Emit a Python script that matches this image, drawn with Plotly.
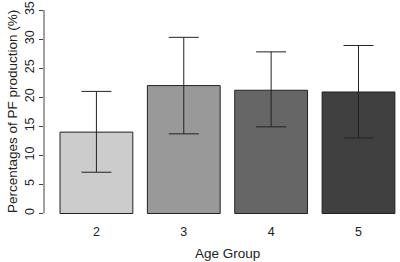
import plotly.graph_objects as go

age_groups = ["2", "3", "4", "5"]
mean_pct = [14.0, 22.0, 21.2, 20.9]
upper_pct = [21.0, 30.3, 27.8, 28.9]
lower_pct = [7.1, 13.7, 14.9, 13.0]
bar_colors = ["#cccccc", "#999999", "#666666", "#404040"]
y_ticks = [0, 5, 10, 15, 20, 25, 30, 35]

err_plus = [u - m for u, m in zip(upper_pct, mean_pct)]
err_minus = [m - l for m, l in zip(mean_pct, lower_pct)]

font_family = "Liberation Sans, Arial, sans-serif"

fig = go.Figure()
fig.add_trace(go.Bar(
    x=age_groups, y=mean_pct,
    marker=dict(color=bar_colors, line=dict(color="#222222", width=1)),
    error_y=dict(type="data", symmetric=False, array=err_plus, arrayminus=err_minus,
                 color="#222222", thickness=1, width=15),
    showlegend=False,
))

fig.add_shape(type="line", xref="paper", yref="y", x0=0, x1=0,
              y0=y_ticks[0], y1=y_ticks[-1], line=dict(color="#444444", width=1))

fig.add_annotation(text="Percentages of PF production (%)", xref="paper", yref="y",
                   x=0, y=17.46, xanchor="center", yanchor="middle", xshift=-31,
                   textangle=-90, showarrow=False,
                   font=dict(family=font_family, size=13.5, color="#222222"))
fig.add_annotation(text="Age Group", xref="paper", yref="paper",
                   x=0.516, y=0, xanchor="center", yanchor="middle", yshift=-31,
                   showarrow=False,
                   font=dict(family=font_family, size=13.5, color="#222222"))

fig.update_layout(
    width=400, height=262,
    margin=dict(l=44, r=0, t=0, b=40),
    paper_bgcolor="white", plot_bgcolor="white",
    bargap=0.2 / 1.2,
    font=dict(family=font_family, size=12.5, color="#222222"),
    xaxis=dict(type="category", range=[-0.6, 3.475], showline=False, showgrid=False,
               zeroline=False, ticks="", tickfont=dict(size=12.5)),
    yaxis=dict(range=[-1.46, 36.72], tickvals=y_ticks, showline=False, showgrid=False,
               zeroline=False, ticks="outside", ticklen=4, tickcolor="#444444",
               tickangle=-90, tickfont=dict(size=12.5), automargin=False),
)
fig.update_xaxes(automargin=False)

fig.write_html("out.html", config={"displayModeBar": False},
               post_script="document.body.style.margin='0';document.body.style.overflow='hidden';")
